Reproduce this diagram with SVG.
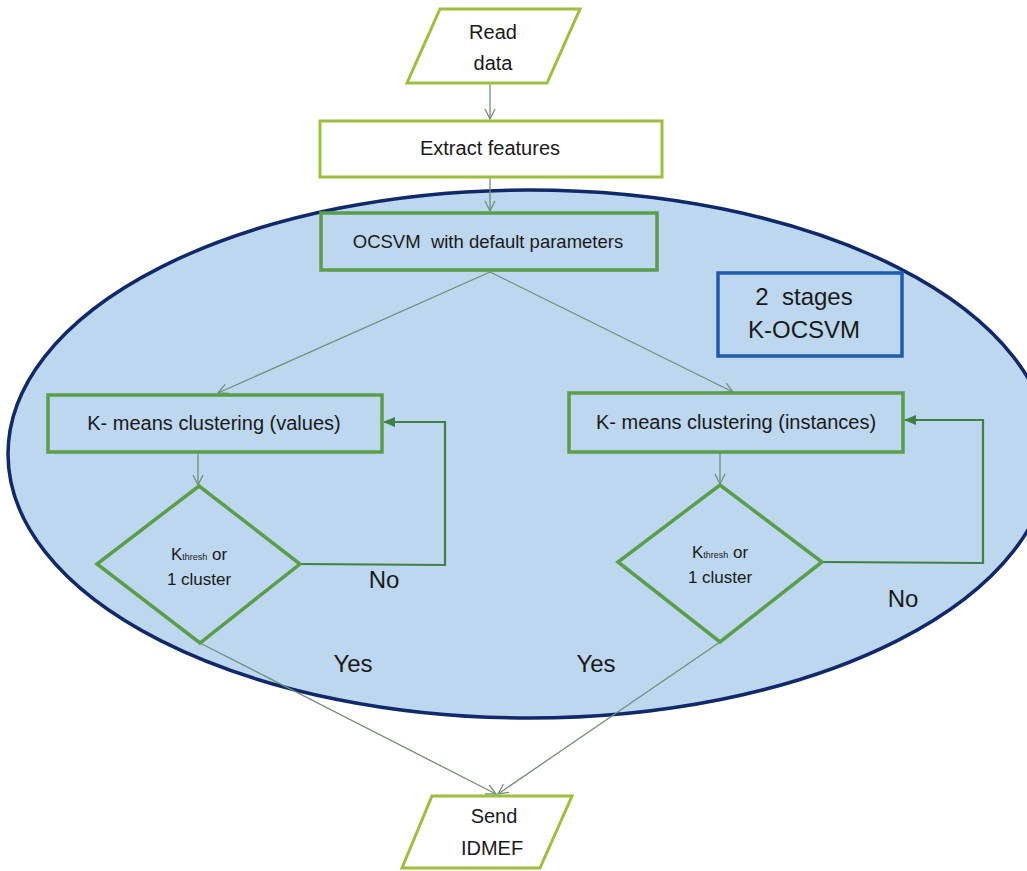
<svg xmlns="http://www.w3.org/2000/svg" width="1027" height="871" viewBox="0 0 1027 871">
<style>
text{font-family:"Liberation Sans",Arial,sans-serif;fill:#1a1a1a;text-anchor:middle}
.outer{fill:#ffffff;stroke:#9cc03c;stroke-width:3}
.inner{fill:#bdd7ee;stroke:#5a9e4a;stroke-width:3.5}
.conn{fill:none;stroke:#6f8f78;stroke-width:1.3}
.loop{fill:none;stroke:#3f7f46;stroke-width:2.2}
.t20{font-size:20px}
.t17{font-size:17px}
.big{font-size:24px}
</style>
<defs>
<marker id="open" viewBox="0 0 12 12" refX="11" refY="6" markerWidth="12" markerHeight="12" markerUnits="userSpaceOnUse" orient="auto">
<path d="M1,1 L11,6 L1,11" fill="none" stroke="#6f8f78" stroke-width="1.3"/>
</marker>
<marker id="solid" viewBox="0 0 12 12" refX="11" refY="6" markerWidth="12" markerHeight="12" markerUnits="userSpaceOnUse" orient="auto">
<path d="M0,1 L12,6 L0,11 Z" fill="#3f7f46"/>
</marker>
</defs>
<rect width="1027" height="871" fill="#ffffff"/>
<g id="region">
<ellipse cx="529" cy="454" rx="521" ry="264" fill="#bdd7ee" stroke="#10296a" stroke-width="3.5"/>
</g>
<g id="connectors">
<line class="conn" x1="490" y1="84" x2="490" y2="119" marker-end="url(#open)"/>
<line class="conn" x1="490" y1="178" x2="490" y2="211" marker-end="url(#open)"/>
<line class="conn" x1="490" y1="272" x2="218" y2="393" marker-end="url(#open)"/>
<line class="conn" x1="490" y1="272" x2="733" y2="392" marker-end="url(#open)"/>
<line class="conn" x1="198" y1="453" x2="198" y2="485" marker-end="url(#open)"/>
<line class="conn" x1="720" y1="453" x2="720" y2="484" marker-end="url(#open)"/>
<polyline class="loop" points="300,564 445,565 445,422 384,422" marker-end="url(#solid)"/>
<polyline class="loop" points="822,562 983,563 983,420 905,420" marker-end="url(#solid)"/>
<line class="conn" x1="200" y1="643" x2="496" y2="794" marker-end="url(#open)"/>
<line class="conn" x1="720" y1="642" x2="498" y2="794" marker-end="url(#open)"/>
<text x="384" y="588" class="big">No</text>
<text x="903" y="607" class="big">No</text>
<text x="353" y="672" class="big">Yes</text>
<text x="596" y="672" class="big">Yes</text>
</g>
<g id="read-data">
<polygon class="outer" points="440,9 580,9 547,83 407,83"/>
<text x="493" y="39" class="t20">Read</text>
<text x="493" y="70" class="t20">data</text>
</g>
<g id="extract-features">
<rect class="outer" x="320" y="121" width="342" height="56"/>
<text x="490" y="155" class="t20">Extract features</text>
</g>
<g id="ocsvm">
<rect class="inner" x="321" y="213" width="336" height="57"/>
<text x="488" y="248" style="font-size:18.5px">OCSVM&#160; with default parameters</text>
</g>
<g id="stages">
<rect x="718" y="273" width="184" height="83" fill="#bdd7ee" stroke="#1f5cad" stroke-width="3.5"/>
<text x="804" y="305" class="big">2&#160; stages</text>
<text x="804" y="338" class="big">K-OCSVM</text>
</g>
<g id="kmeans-values">
<rect class="inner" x="48" y="395" width="334" height="57"/>
<text x="214" y="430" class="t20">K- means clustering (values)</text>
</g>
<g id="kmeans-instances">
<rect class="inner" x="569" y="393" width="334" height="59"/>
<text x="736" y="429" class="t20">K- means clustering (instances)</text>
</g>
<g id="decision-values">
<polygon class="inner" points="199,486 300,564 200,643 97,564"/>
<text x="199" y="560" class="t17">K<tspan style="font-size:9px">thresh</tspan> or</text>
<text x="199" y="585" class="t17">1 cluster</text>
</g>
<g id="decision-instances">
<polygon class="inner" points="720,485 822,562 720,642 618,562"/>
<text x="720" y="558" class="t17">K<tspan style="font-size:9px">thresh</tspan> or</text>
<text x="720" y="583" class="t17">1 cluster</text>
</g>
<g id="send-idmef">
<polygon class="outer" points="432,796 572,796 540,868 402,868"/>
<text x="494" y="823" class="t20">Send</text>
<text x="492" y="855" class="t20">IDMEF</text>
</g>
</svg>
